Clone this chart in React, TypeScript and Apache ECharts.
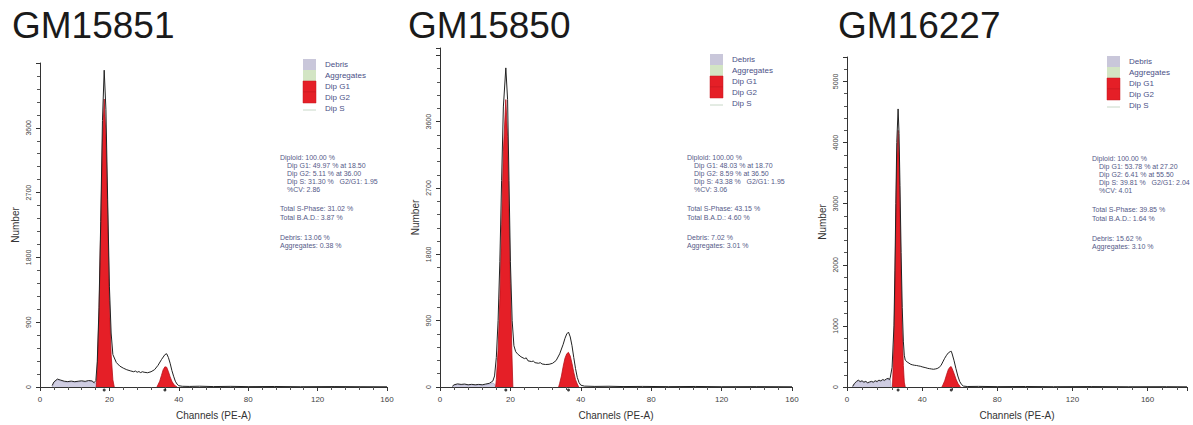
import React, { useEffect, useRef } from "react";
import * as echarts from "echarts";

// Channel values printed under each x axis
const ticksAB = [0, 20, 40, 80, 120, 160];
const ticksC = [0, 40, 80, 120, 160];

// ---------- GM15851 ----------
const gm15851Hist: [number, number][] = [
  [3.5, 20], [4, 70], [5, 110], [6, 95], [7, 80], [8, 75], [9, 82], [10, 74], [11, 80], [12, 86],
  [13, 78], [14, 90], [15, 84], [15.6, 60], [16.1, 90], [16.5, 350], [17, 1100], [17.5, 2300],
  [18, 3700], [18.5, 4400], [19, 3850], [19.5, 2600], [20, 1400], [20.5, 750], [21, 450],
  [22, 340], [23, 290], [24, 262], [25, 240], [26, 225], [27, 212], [27.5, 222], [28, 205],
  [28.5, 215], [29, 200], [29.5, 212], [30, 205], [31, 198], [32, 212], [33, 240], [34, 300],
  [35, 380], [36, 450], [36.5, 462], [37, 410], [37.5, 330], [38, 230], [38.5, 150], [39, 80],
  [39.5, 40], [40, 18], [42, 10], [46, 8], [52, 11], [60, 6], [70, 9], [80, 5], [95, 7],
  [110, 4], [130, 6], [145, 4], [160, 3],
];
const gm15851G1: [number, number][] = [
  [16.2, 0], [16.5, 250], [17, 1000], [17.5, 2200], [18, 3400], [18.5, 4000], [19, 3500],
  [19.5, 2400], [20, 1200], [20.5, 450], [21, 100], [21.4, 0],
];
const gm15851G2: [number, number][] = [
  [33.7, 0], [34, 30], [34.5, 80], [35, 160], [35.5, 240], [36, 280], [36.5, 275], [37, 215],
  [37.5, 140], [38, 80], [38.5, 40], [39, 15], [39.5, 0],
];
const gm15851Debris: [number, number][] = [
  [3.5, 0], [4, 55], [5, 100], [6, 85], [7, 72], [8, 68], [9, 74], [10, 68], [11, 72], [12, 78],
  [13, 70], [14, 80], [15, 76], [15.6, 55], [16.1, 60], [16.6, 0],
];

// ---------- GM15850 ----------
const gm15850Hist: [number, number][] = [
  [3.5, 10], [4, 30], [5, 42], [6, 35], [7, 40], [8, 30], [9, 36], [10, 30], [11, 35], [12, 30],
  [13, 40], [14, 50], [15, 80], [15.5, 150], [16, 400], [16.5, 900], [17, 1700], [17.5, 2800],
  [18, 3800], [18.7, 4330], [19.2, 3900], [19.6, 2800], [20, 1700], [20.5, 900], [21, 560],
  [21.5, 480], [22, 450], [23, 410], [24, 385], [24.5, 395], [25, 355], [26, 345], [26.5, 352],
  [27, 330], [28, 322], [28.5, 330], [29, 312], [30, 305], [31, 308], [32, 322], [33, 360],
  [34, 450], [35, 580], [35.5, 660], [36, 720], [36.5, 745], [37, 680], [37.5, 560], [38, 400],
  [38.5, 250], [39, 130], [39.5, 60], [40, 25], [42, 12], [48, 8], [56, 10], [64, 6], [75, 8],
  [90, 5], [105, 7], [120, 4], [140, 5], [160, 3],
];
const gm15850G1: [number, number][] = [
  [15.8, 0], [16, 100], [16.5, 500], [17, 1200], [17.5, 2200], [18, 3200], [18.7, 3900],
  [19.2, 3400], [19.6, 2400], [20, 1400], [20.4, 500], [20.7, 0],
];
const gm15850G2: [number, number][] = [
  [33.7, 0], [34, 50], [34.5, 150], [35, 280], [35.5, 390], [36, 450], [36.5, 470], [37, 420],
  [37.5, 320], [38, 200], [38.5, 100], [39, 40], [39.4, 0],
];
const gm15850Debris: [number, number][] = [
  [3.5, 0], [4, 24], [5, 35], [6, 28], [7, 33], [8, 24], [9, 30], [10, 24], [11, 29], [12, 24],
  [13, 32], [14, 40], [15, 55], [15.5, 40], [15.8, 0],
];

// ---------- GM16227 ----------
const gm16227Hist: [number, number][] = [
  [3, 10], [4, 60], [5, 90], [6, 112], [7, 90], [8, 102], [9, 80], [10, 92], [11, 70], [12, 82],
  [13, 92], [14, 80], [15, 102], [16, 90], [17, 112], [18, 100], [19, 122], [20, 110], [21, 132],
  [22, 142], [22.5, 120], [23, 150], [24, 320], [25, 1000], [25.5, 1900], [26, 3000], [26.5, 4000],
  [27.2, 4550], [27.7, 4150], [28.2, 3300], [28.8, 2200], [29.4, 1300], [30, 750], [30.5, 520],
  [31, 440], [32, 410], [33, 390], [34, 370], [35, 362], [36, 355], [37, 352], [38, 345],
  [39, 340], [40, 330], [41, 322], [42, 315], [43, 305], [44, 300], [45, 295], [46, 290],
  [47, 295], [48, 302], [49, 320], [50, 350], [51, 410], [52, 470], [53, 520], [54, 560],
  [55, 580], [55.5, 585], [56, 540], [57, 430], [58, 300], [59, 180], [60, 90], [61, 40],
  [62, 15], [64, 8], [70, 10], [80, 6], [95, 8], [110, 5], [130, 7], [150, 4], [170, 5], [181, 3],
];
const gm16227G1: [number, number][] = [
  [24.2, 0], [25, 700], [25.5, 1600], [26, 2700], [26.5, 3700], [27.2, 4200], [27.7, 3800],
  [28.2, 2900], [28.8, 1800], [29.4, 900], [30, 350], [30.5, 80], [31, 0],
];
const gm16227G2: [number, number][] = [
  [50.5, 0], [51, 30], [52, 100], [53, 200], [54, 290], [55, 330], [55.5, 332], [56, 300],
  [57, 220], [58, 130], [59, 60], [60, 15], [60.5, 0],
];
const gm16227Debris: [number, number][] = [
  [3, 0], [4, 50], [5, 80], [6, 100], [7, 80], [8, 92], [9, 70], [10, 82], [11, 60], [12, 72],
  [13, 82], [14, 70], [15, 92], [16, 80], [17, 100], [18, 90], [19, 110], [20, 100], [21, 120],
  [22, 130], [22.5, 110], [23, 135], [23.6, 0],
];

// Legend entries shown in every panel
const legendNames = ["Debris", "Aggregates", "Dip G1", "Dip G2", "Dip S"];
const legendColors = ["#c9c7da", "#d3e5c4", "#e51f27", "#e51f27", "#ffffff"];

// Percentages reported by the fit
const statsGM15851 = { g1: "49.97", g2: "5.11", s: "31.30", cv: "2.86", totS: "31.02", bad: "3.87", debris: "13.06", agg: "0.38" };
const statsGM15850 = { g1: "48.03", g2: "8.59", s: "43.38", cv: "3.06", totS: "43.15", bad: "4.60", debris: "7.02", agg: "3.01" };
const statsGM16227 = { g1: "53.78", g2: "6.41", s: "39.81", cv: "4.01", totS: "39.85", bad: "1.64", debris: "15.62", agg: "3.10" };

const FONT = '"Liberation Sans", Arial, sans-serif';
const RED = "#e51f27";

// Map a channel value onto the axis, whose labels are spaced evenly
function toSlot(ch: number, ticks: number[]): number {
  for (let i = 0; i < ticks.length - 1; i++) {
    if (ch <= ticks[i + 1]) return i + (ch - ticks[i]) / (ticks[i + 1] - ticks[i]);
  }
  const n = ticks.length - 1;
  return n + (ch - ticks[n]) / (ticks[n] - ticks[n - 1]);
}

function peakOf(d: [number, number][]): number {
  let best = d[0];
  d.forEach((p) => { if (p[1] > best[1]) best = p; });
  return best[0];
}

interface Panel {
  title: string;
  ticks: number[];
  maxCh: number;
  yMax: number;
  yStep: number;
  yLabelTop: number;
  grid: { left: number; top: number; width: number; height: number };
  hist: [number, number][];
  g1: [number, number][];
  g2: [number, number][];
  debris: [number, number][];
  stats: typeof statsGM15851;
  titleX: number;
  legendX: number;
  legendTop: number;
  statsX: number;
  statsY: number;
}

const panels: Panel[] = [
  {
    title: "GM15851", ticks: ticksAB, maxCh: 160, yMax: 4500, yStep: 900, yLabelTop: 3600,
    grid: { left: 40, top: 63, width: 347, height: 325 },
    hist: gm15851Hist, g1: gm15851G1, g2: gm15851G2, debris: gm15851Debris, stats: statsGM15851,
    titleX: 12, legendX: 303, legendTop: 59, statsX: 280, statsY: 157,
  },
  {
    title: "GM15850", ticks: ticksAB, maxCh: 160, yMax: 4600, yStep: 900, yLabelTop: 3600,
    grid: { left: 440, top: 48, width: 352, height: 340 },
    hist: gm15850Hist, g1: gm15850G1, g2: gm15850G2, debris: gm15850Debris, stats: statsGM15850,
    titleX: 408, legendX: 710, legendTop: 54, statsX: 687, statsY: 157,
  },
  {
    title: "GM16227", ticks: ticksC, maxCh: 181, yMax: 5400, yStep: 1000, yLabelTop: 5000,
    grid: { left: 847, top: 57, width: 340, height: 331 },
    hist: gm16227Hist, g1: gm16227G1, g2: gm16227G2, debris: gm16227Debris, stats: statsGM16227,
    titleX: 838, legendX: 1107, legendTop: 56, statsX: 1092, statsY: 158,
  },
];

function buildOption() {
  const grids: any[] = [];
  const xAxes: any[] = [];
  const yAxes: any[] = [];
  const series: any[] = [];
  const graphics: any[] = [];

  panels.forEach((p, i) => {
    grids.push({ ...p.grid });
    const conv = (d: [number, number][]) => d.map(([c, v]) => [toSlot(c, p.ticks), v]);

    xAxes.push({
      gridIndex: i,
      type: "value",
      min: 0,
      max: toSlot(p.maxCh, p.ticks),
      interval: 1,
      name: "Channels (PE-A)",
      nameLocation: "middle",
      nameGap: 23,
      nameTextStyle: { fontFamily: FONT, fontSize: 10, color: "#333" },
      axisLine: { lineStyle: { color: "#333", width: 1 } },
      axisTick: { show: true, length: 4, lineStyle: { color: "#333" } },
      minorTick: { show: true, splitNumber: 5, length: 3, lineStyle: { color: "#555" } },
      splitLine: { show: false },
      minorSplitLine: { show: false },
      axisLabel: {
        fontFamily: FONT, fontSize: 8, color: "#444", margin: 8,
        formatter: (v: number) => {
          const r = Math.round(v);
          return Math.abs(v - r) < 1e-6 && r < p.ticks.length ? String(p.ticks[r]) : "";
        },
      },
    });

    yAxes.push({
      gridIndex: i,
      type: "value",
      min: 0,
      max: p.yMax,
      interval: p.yStep,
      name: "Number",
      nameLocation: "middle",
      nameGap: 20,
      nameTextStyle: { fontFamily: FONT, fontSize: 10, color: "#333" },
      axisLine: { show: true, lineStyle: { color: "#333", width: 1 } },
      axisTick: { show: true, length: 4, lineStyle: { color: "#333" } },
      minorTick: { show: true, splitNumber: 5, length: 3, lineStyle: { color: "#555" } },
      splitLine: { show: false },
      axisLabel: {
        fontFamily: FONT, fontSize: 7, color: "#444", rotate: 90, margin: 8,
        formatter: (v: number) => (v <= p.yLabelTop && v % p.yStep === 0 ? String(v) : ""),
      },
    });

    const common = { xAxisIndex: i, yAxisIndex: i, showSymbol: false, symbol: "none", silent: true };
    series.push({
      ...common, type: "line", name: "Debris", data: conv(p.debris), z: 1,
      lineStyle: { color: "#9a97b8", width: 0.6 }, areaStyle: { color: "#cfcde2", opacity: 1 },
    });
    series.push({
      ...common, type: "line", name: "Dip G1", data: conv(p.g1), z: 2,
      lineStyle: { color: "#b5121a", width: 0.8 }, areaStyle: { color: RED, opacity: 1 },
    });
    series.push({
      ...common, type: "line", name: "Dip G2", data: conv(p.g2), z: 2,
      lineStyle: { color: "#b5121a", width: 0.8 }, areaStyle: { color: RED, opacity: 1 },
    });
    series.push({
      ...common, type: "line", name: "Histogram", data: conv(p.hist), z: 3,
      lineStyle: { color: "#222", width: 1 },
    });
    series.push({
      type: "scatter", xAxisIndex: i, yAxisIndex: i, silent: true, z: 4,
      symbol: "circle", symbolSize: 3, symbolOffset: [0, 3],
      itemStyle: { color: "#111" },
      data: [[toSlot(peakOf(p.g1), p.ticks), 0], [toSlot(peakOf(p.g2), p.ticks), 0]],
    });

    // Panel title
    graphics.push({
      type: "text", x: p.titleX, y: 25,
      style: { text: p.title, font: `37px ${FONT}`, fill: "#1a1a1a", textVerticalAlign: "middle", textAlign: "left" },
    });

    // Legend block
    legendNames.forEach((name, k) => {
      const top = p.legendTop + k * 11;
      if (k < 4) {
        graphics.push({
          type: "rect", shape: { x: p.legendX, y: top, width: 13, height: 11 },
          style: { fill: legendColors[k], stroke: k >= 2 ? "#c41820" : "none", lineWidth: 0.5 },
        });
      } else {
        graphics.push({
          type: "line", shape: { x1: p.legendX, y1: top + 7, x2: p.legendX + 13, y2: top + 7 },
          style: { stroke: "#c8d8c8", lineWidth: 1 },
        });
      }
      graphics.push({
        type: "text", x: p.legendX + 22, y: top + 5.5,
        style: { text: name, font: `8px ${FONT}`, fill: "#4a4f86", textVerticalAlign: "middle" },
      });
    });

    // Fit statistics
    const g1 = peakOf(p.g1);
    const g2 = peakOf(p.g2);
    const s = p.stats;
    const lines: [string, number, number][] = [
      ["Diploid: 100.00 %", 0, 0],
      [`Dip G1: ${s.g1} % at ${g1.toFixed(2)}`, 7, 8],
      [`Dip G2: ${s.g2} % at ${g2.toFixed(2)}`, 7, 16],
      [`Dip S: ${s.s} %   G2/G1: ${(g2 / g1).toFixed(2)}`, 7, 24],
      [`%CV: ${s.cv}`, 7, 32],
      [`Total S-Phase: ${s.totS} %`, 0, 51],
      [`Total B.A.D.: ${s.bad} %`, 0, 60],
      [`Debris: ${s.debris} %`, 0, 80],
      [`Aggregates: ${s.agg} %`, 0, 88],
    ];
    lines.forEach(([t, dx, dy]) => {
      graphics.push({
        type: "text", x: p.statsX + dx, y: p.statsY + dy,
        style: { text: t, font: `7px ${FONT}`, fill: "#555a88", textVerticalAlign: "middle" },
      });
    });
  });

  return {
    animation: false,
    backgroundColor: "#ffffff",
    grid: grids,
    xAxis: xAxes,
    yAxis: yAxes,
    series,
    graphic: graphics,
  };
}

export default function App() {
  const ref = useRef<HTMLDivElement>(null);
  useEffect(() => {
    if (!ref.current) return;
    const chart = echarts.init(ref.current, undefined, { renderer: "svg" });
    chart.setOption(buildOption() as any);
    return () => chart.dispose();
  }, []);
  return (
    <div
      ref={ref}
      style={{ position: "fixed", left: 0, top: 0, width: 1193, height: 425, background: "#fff" }}
    />
  );
}
